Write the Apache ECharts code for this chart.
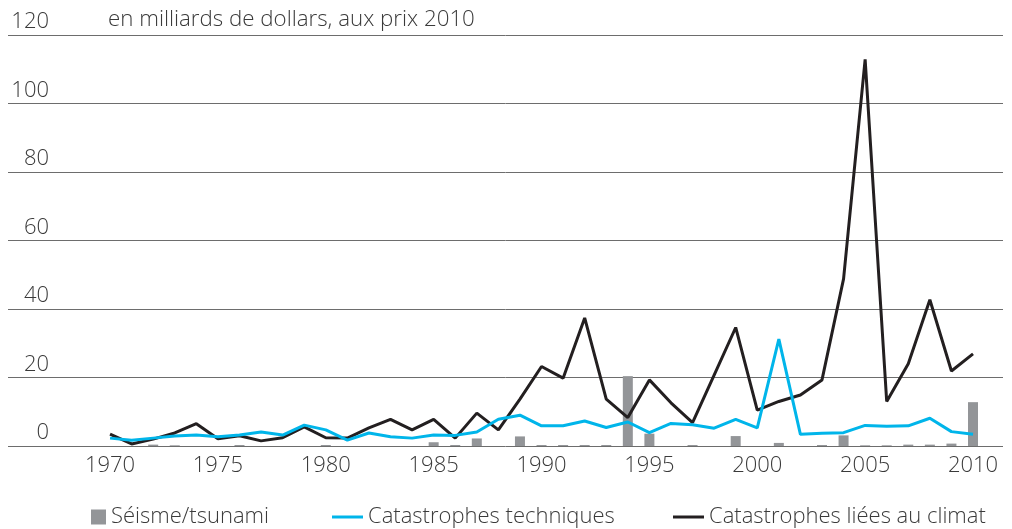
<!DOCTYPE html>
<html lang="fr" style="height: 100%">
  <head>
    <meta charset="utf-8" />
  </head>
  <body style="height: 100%; margin: 0; background: #fff">
    <div id="container" style="width: 1012px; height: 529px"></div>

    <script src="https://cdn.jsdelivr.net/npm/echarts@6/dist/echarts.min.js"></script>

    <script type="text/javascript">
      // années 1970 à 2010
      var years = [];
      for (var y = 1970; y <= 2010; y++) years.push(y);

      var xTicks = [1970, 1975, 1980, 1985, 1990, 1995, 2000, 2005, 2010];
      var yTicks = [0, 20, 40, 60, 80, 100, 120];

      // en milliards de dollars, aux prix 2010
      var seisme = [0, 0, 0.4, 0.2, 0, 0, 0.3, 0, 0, 0,
        0.3, 0, 0, 0, 0, 1.1, 0.3, 2.2, 0, 2.8,
        0.3, 0.3, 0.3, 0.3, 20.4, 3.6, 0, 0.3, 0, 2.9,
        0, 0.9, 0, 0.3, 3.1, 0.2, 0.2, 0.4, 0.4, 0.7,
        12.8];
      var techniques = [2.3, 1.7, 2.3, 2.9, 3.2, 2.7, 3.2, 4.1, 3.2, 6.1,
        4.7, 1.7, 3.8, 2.7, 2.3, 3.2, 3.1, 4.1, 7.8, 9,
        5.9, 5.9, 7.3, 5.4, 7, 3.9, 6.6, 6.2, 5.2, 7.8,
        5.3, 31.2, 3.4, 3.7, 3.9, 6, 5.8, 5.9, 8.1, 4.2,
        3.4];
      var climat = [3.5, 0.6, 2, 3.8, 6.5, 2.1, 3, 1.5, 2.4, 5.6,
        2.4, 2.3, 5.3, 7.8, 4.7, 7.8, 2.3, 9.6, 4.7, 13.7,
        23.2, 19.8, 37.4, 13.7, 8.3, 19.3, 12.6, 6.8, 20.7, 34.6,
        10.5, 13, 14.9, 19.3, 48.8, 112.9, 13, 24, 42.7, 21.9,
        26.9];

      function pairs(values) {
        return years.map(function (yr, i) {
          return [yr, values[i]];
        });
      }

      var font = "'Open Sans', 'Liberation Sans', sans-serif";
      var textColor = "#3a3a3a";

      var dom = document.getElementById("container");
      var myChart = echarts.init(dom, null, { renderer: "canvas" });

      var option = {
        animation: false,
        textStyle: { fontFamily: font },
        title: {
          text: "en milliards de dollars, aux prix 2010",
          left: 103,
          top: 4,
          textStyle: {
            fontFamily: font,
            fontSize: 22.3,
            fontWeight: 300,
            color: textColor,
          },
        },
        grid: { left: 8, right: 9, top: 35, bottom: 83 },
        xAxis: {
          type: "value",
          min: 1965.27,
          max: 2011.39,
          axisLine: { show: false },
          axisTick: { show: false },
          splitLine: { show: false },
          axisLabel: {
            customValues: xTicks,
            formatter: function (v) {
              return String(v);
            },
            margin: 9,
            fontFamily: font,
            fontSize: 22,
            fontWeight: 300,
            color: textColor,
          },
        },
        yAxis: {
          type: "value",
          min: 0,
          max: 120,
          interval: 20,
          axisLine: { show: false },
          axisTick: { show: false },
          splitLine: { lineStyle: { color: "#6d6d6d", width: 1 } },
          axisLabel: {
            inside: true,
            margin: 41,
            align: "right",
            verticalAlign: "bottom",
            padding: [0, 0, 2, 0],
            fontFamily: font,
            fontSize: 22,
            fontWeight: 300,
            color: textColor,
          },
        },
        legend: [
          {
            data: [{ name: "Séisme/tsunami", icon: "rect" }],
            left: 86,
            top: 501,
            itemWidth: 15,
            itemHeight: 15,
            itemGap: 5,
            textStyle: { fontFamily: font, fontSize: 22, fontWeight: 300, color: textColor },
          },
          {
            data: [{ name: "Catastrophes techniques", icon: "rect" }],
            left: 327,
            top: 501,
            itemWidth: 31,
            itemHeight: 3,
            textStyle: { fontFamily: font, fontSize: 22, fontWeight: 300, color: textColor },
          },
          {
            data: [{ name: "Catastrophes liées au climat", icon: "rect" }],
            left: 668,
            top: 501,
            itemWidth: 31,
            itemHeight: 3,
            textStyle: { fontFamily: font, fontSize: 22, fontWeight: 300, color: textColor },
          },
        ],
        series: [
          {
            name: "Séisme/tsunami",
            type: "bar",
            barWidth: 10,
            itemStyle: { color: "#939598" },
            data: pairs(seisme),
          },
          {
            name: "Catastrophes liées au climat",
            type: "line",
            symbol: "none",
            lineStyle: { color: "#231f20", width: 3 },
            itemStyle: { color: "#231f20" },
            data: pairs(climat),
          },
          {
            name: "Catastrophes techniques",
            type: "line",
            symbol: "none",
            lineStyle: { color: "#00b5ea", width: 3 },
            itemStyle: { color: "#00b5ea" },
            data: pairs(techniques),
          },
        ],
      };

      myChart.setOption(option);
      window.addEventListener("resize", myChart.resize);
    </script>
  </body>
</html>
